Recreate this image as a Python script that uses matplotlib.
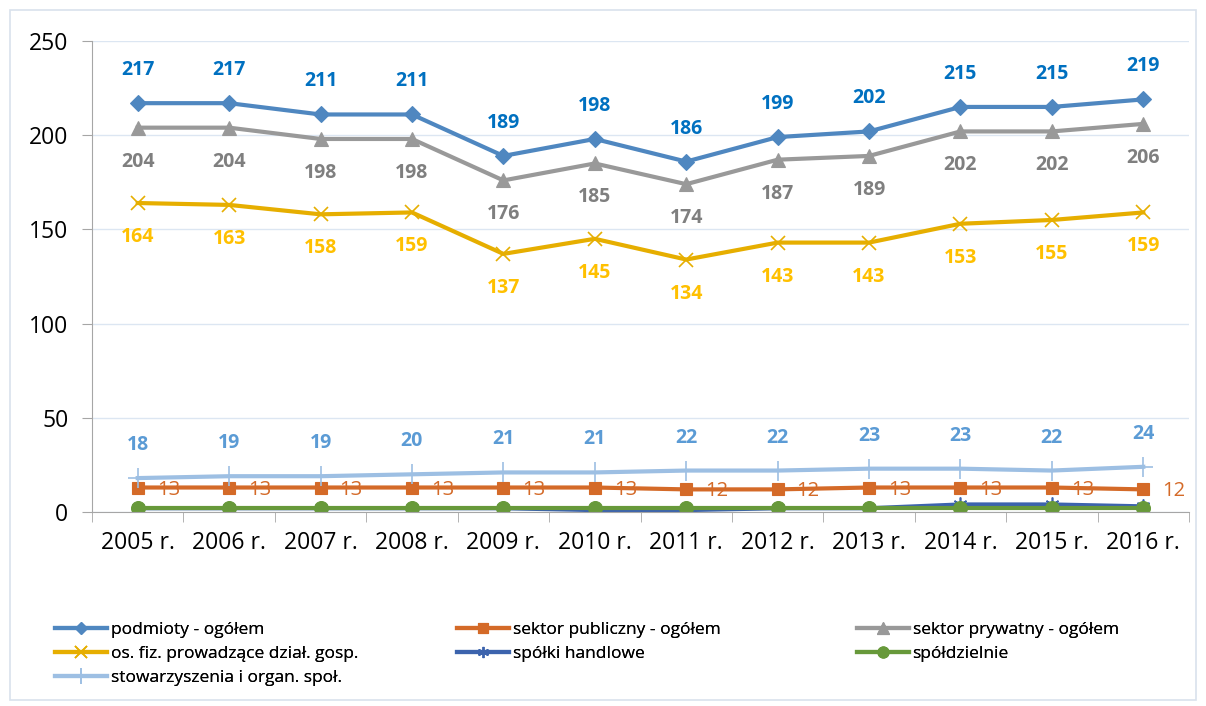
import numpy as np
import matplotlib.pyplot as plt
from matplotlib.patches import Rectangle

plt.rcParams['font.family'] = ['Open Sans', 'DejaVu Sans']

# Dane
lata = ['2005 r.', '2006 r.', '2007 r.', '2008 r.', '2009 r.', '2010 r.',
        '2011 r.', '2012 r.', '2013 r.', '2014 r.', '2015 r.', '2016 r.']
podmioty = [217, 217, 211, 211, 189, 198, 186, 199, 202, 215, 215, 219]
sektor_publiczny = [13, 13, 13, 13, 13, 13, 12, 12, 13, 13, 13, 12]
sektor_prywatny = [204, 204, 198, 198, 176, 185, 174, 187, 189, 202, 202, 206]
os_fizyczne = [164, 163, 158, 159, 137, 145, 134, 143, 143, 153, 155, 159]
spolki_handlowe = [2, 2, 2, 2, 2, 1, 1, 2, 2, 4, 4, 3]
spoldzielnie = [2, 2, 2, 2, 2, 2, 2, 2, 2, 2, 2, 2]
stowarzyszenia = [18, 19, 19, 20, 21, 21, 22, 22, 23, 23, 22, 24]

x = np.arange(len(lata))

fig = plt.figure(figsize=(12.06, 7.06), dpi=100)
fig.patches.append(Rectangle((10 / 1206, 6 / 706), 1186 / 1206, 690 / 706,
                             transform=fig.transFigure, fill=False,
                             edgecolor='#d9e2ec', linewidth=1.2))
ax = fig.add_axes([92 / 1206, 1 - 512 / 706, 1097 / 1206, 471 / 706])

# (dane, etykieta, kolor linii, znacznik, rozmiar, kolor etykiety, położenie etykiety)
serie = [
    (podmioty, 'podmioty - ogółem', '#4f87c0', 'D', 8, '#0070c0', 'above'),
    (sektor_publiczny, 'sektor publiczny - ogółem', '#d46a28', 's', 9, '#d46a28', 'right'),
    (sektor_prywatny, 'sektor prywatny - ogółem', '#999999', '^', 10, '#7f7f7f', 'below'),
    (os_fizyczne, 'os. fiz. prowadzące dział. gosp.', '#e6ae00', 'x', 10, '#ffc000', 'below'),
    (spolki_handlowe, 'spółki handlowe', '#3c63ad', (6, 2, 0), 10, None, None),
    (spoldzielnie, 'spółdzielnie', '#67993a', 'o', 10, None, None),
    (stowarzyszenia, 'stowarzyszenia i organ. społ.', '#9dbfe3', '+', 14, '#5b9bd5', 'above'),
]

linie = []
for dane, nazwa, kolor, marker, ms, kolor_et, poz in serie:
    ln, = ax.plot(x, dane, color=kolor, linewidth=3, marker=marker, markersize=ms,
                  markeredgewidth=1.2 if marker in ('x', '+', (6, 2, 0)) else 0.8,
                  markeredgecolor=kolor, markerfacecolor=kolor, label=nazwa)
    linie.append(ln)
    if poz is None:
        continue
    for xi, v in zip(x, dane):
        if poz == 'above':
            ax.annotate(str(v), (xi, v), xytext=(0, 33), textcoords='offset pixels',
                        ha='center', va='center', fontsize=14, fontweight='bold',
                        color=kolor_et)
        elif poz == 'below':
            ax.annotate(str(v), (xi, v), xytext=(0, -34), textcoords='offset pixels',
                        ha='center', va='center', fontsize=14, fontweight='bold',
                        color=kolor_et)
        else:
            ax.annotate(str(v), (xi, v), xytext=(19, -2), textcoords='offset pixels',
                        ha='left', va='center', fontsize=14.5, color=kolor_et)

ax.set_xlim(-0.5, len(lata) - 0.5)
ax.set_ylim(0, 250)
ax.set_yticks(np.arange(0, 251, 50))
ax.set_xticks(x)
ax.set_xticklabels(lata)
ax.set_xticks(np.arange(-0.5, len(lata), 1), minor=True)
ax.tick_params(axis='x', which='major', length=0, labelsize=16.5, pad=14)
ax.tick_params(axis='x', which='minor', length=7, color='#a6a6a6', direction='out')
ax.tick_params(axis='y', length=7, color='#a6a6a6', labelsize=16.5, pad=10)
ax.grid(axis='y', color='#dce6f2', linewidth=1)
ax.set_axisbelow(True)
for s in ['top', 'right']:
    ax.spines[s].set_visible(False)
ax.spines['left'].set_color('#a6a6a6')
ax.spines['bottom'].set_color('#a6a6a6')

# legenda w trzech kolumnach, wypełniana wierszami
kolumny = [[0, 3, 6], [1, 4], [2, 5]]
x_kolumn = [55, 457, 857]
for idx, xk in zip(kolumny, x_kolumn):
    leg = fig.legend([linie[i] for i in idx], [serie[i][1] for i in idx],
                     loc='upper left', bbox_to_anchor=(xk / 1206, 1 - 622 / 706),
                     frameon=False, fontsize=12.5, handlelength=3.0,
                     handletextpad=0.2, labelspacing=0.45, borderaxespad=0,
                     borderpad=0, markerscale=0.8)
    fig.add_artist(leg)

fig.savefig('out.png', dpi=100)
